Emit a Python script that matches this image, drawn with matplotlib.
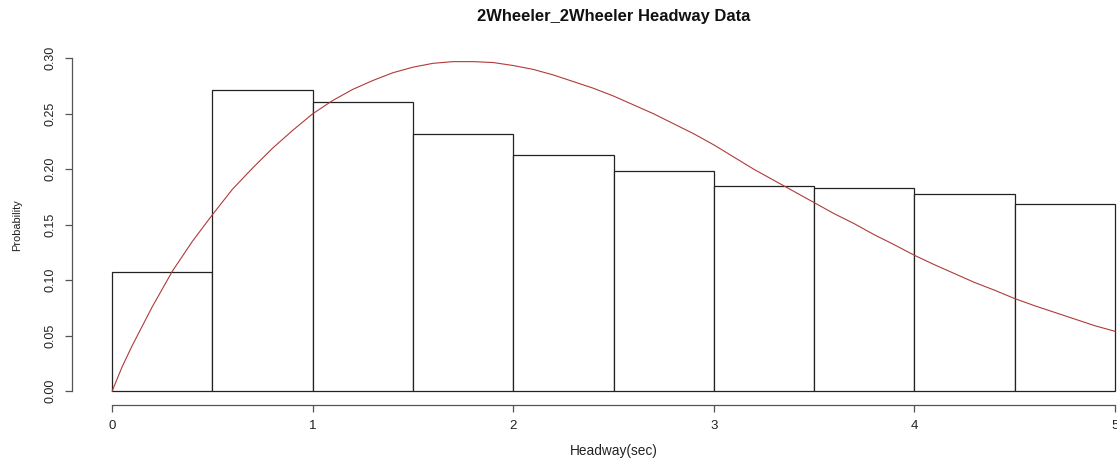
import numpy as np
import matplotlib
matplotlib.use('Agg')
import matplotlib.pyplot as plt

plt.rcParams['font.family'] = ['Liberation Sans', 'DejaVu Sans']

# histogram of headways (density per 0.5 s bin)
bin_edges = [0.0, 0.5, 1.0, 1.5, 2.0, 2.5, 3.0, 3.5, 4.0, 4.5, 5.0]
bin_density = [0.107, 0.271, 0.261, 0.232, 0.213, 0.198, 0.185, 0.183, 0.1775, 0.169]

# fitted density curve
fit_x = [0.0, 0.05, 0.1, 0.2, 0.3, 0.4, 0.5, 0.6, 0.7, 0.8, 0.9,
         1.0, 1.1, 1.2, 1.3, 1.4, 1.5, 1.6, 1.7, 1.8, 1.9,
         2.0, 2.1, 2.2, 2.3, 2.4, 2.5, 2.6, 2.7, 2.8, 2.9,
         3.0, 3.1, 3.2, 3.3, 3.4, 3.5, 3.6, 3.7, 3.8, 3.9,
         4.0, 4.1, 4.2, 4.3, 4.4, 4.5, 4.6, 4.7, 4.8, 4.9, 5.0]
fit_y = [0.0, 0.022, 0.041, 0.076, 0.108, 0.135, 0.159, 0.182, 0.201, 0.219, 0.235,
         0.250, 0.262, 0.272, 0.280, 0.287, 0.292, 0.2955, 0.297, 0.297, 0.2962,
         0.2935, 0.290, 0.285, 0.279, 0.273, 0.266, 0.258, 0.250, 0.241, 0.232,
         0.222, 0.211, 0.200, 0.190, 0.180, 0.170, 0.160, 0.151, 0.141, 0.132,
         0.1225, 0.114, 0.106, 0.098, 0.091, 0.0835, 0.077, 0.071, 0.065, 0.059, 0.054]

x_ticks = [0, 1, 2, 3, 4, 5]
y_ticks = [0.00, 0.05, 0.10, 0.15, 0.20, 0.25, 0.30]

W, H = 1117, 466
fig = plt.figure(figsize=(W / 100, H / 100), dpi=100)
# plot region in pixels (R style, x range padded 4% each side)
left, right, bottom, top = 72, 1155, 404.5, 45
ax = fig.add_axes([left / W, (H - bottom) / H, (right - left) / W, (bottom - top) / H])
ax.set_xlim(-0.2, 5.2)
ax.set_ylim(-0.012, 0.312)

widths = np.diff(bin_edges)
ax.bar(bin_edges[:-1], bin_density, width=widths, align='edge',
       facecolor='white', edgecolor='#222222', linewidth=0.9)
ax.plot(fit_x, fit_y, color='#b03a3a', linewidth=0.8)

for side in ['top', 'right']:
    ax.spines[side].set_visible(False)
ax.spines['left'].set_bounds(0, 0.30)
ax.spines['bottom'].set_bounds(0, 5)
for side in ['left', 'bottom']:
    ax.spines[side].set_color('#555555')
    ax.spines[side].set_linewidth(0.9)

ax.set_xticks(x_ticks)
ax.set_xticklabels([str(t) for t in x_ticks])
ax.set_yticks(y_ticks)
ax.set_yticklabels([f'{t:.2f}' for t in y_ticks])
ax.tick_params(direction='out', length=5, width=0.9, color='#555555',
               labelcolor='#222222')
ax.tick_params(axis='x', pad=6, labelsize=9.5)
ax.tick_params(axis='y', pad=6, labelsize=9, labelrotation=90)
for lab in ax.get_yticklabels():
    lab.set_verticalalignment('center')

ax.set_title('2Wheeler_2Wheeler Headway Data', fontsize=11.9, fontweight='bold',
             color='#111111', pad=17.5)
ax.set_xlabel('Headway(sec)', fontsize=9.8, color='#222222', labelpad=9)
ax.set_ylabel('Probability', fontsize=7.9, color='#222222', labelpad=16)

fig.savefig('out.png', dpi=100)
